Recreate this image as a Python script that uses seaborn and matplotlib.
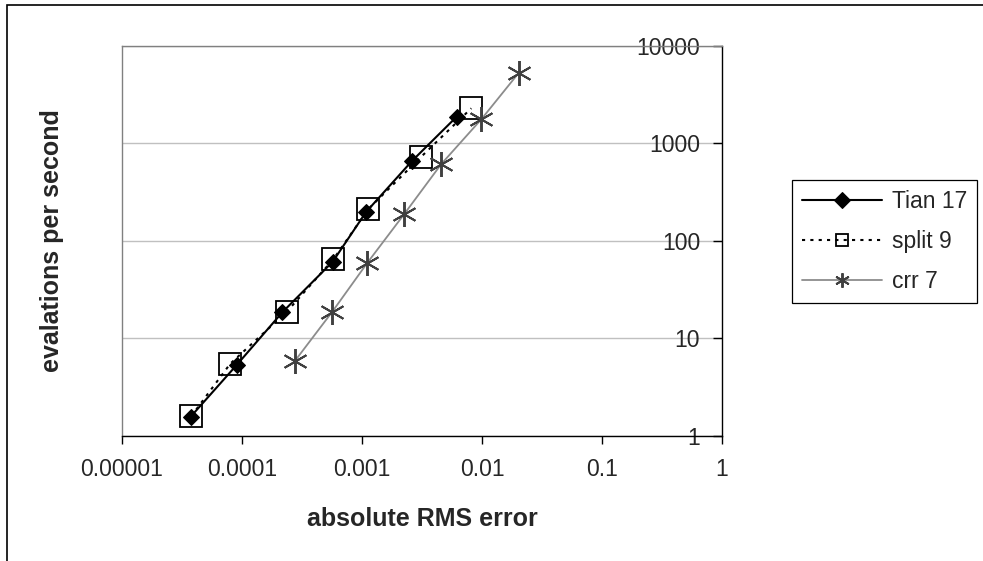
import numpy as np
import pandas as pd
import seaborn as sns
import matplotlib.pyplot as plt
from matplotlib.patches import Rectangle

# values (log-log)
tian_err = [3.74e-5, 9.03e-5, 2.17e-4, 5.70e-4, 1.08e-3, 2.61e-3, 6.15e-3]
tian_eps = [1.58, 5.35, 18.6, 61.3, 198, 662, 1883]

split_err = [3.78e-5, 7.99e-5, 2.36e-4, 5.77e-4, 1.13e-3, 3.12e-3, 8.14e-3]
split_eps = [1.60, 5.52, 18.8, 64.9, 213, 733, 2296]

crr_err = [2.77e-4, 5.65e-4, 1.11e-3, 2.25e-3, 4.58e-3, 9.87e-3, 2.03e-2]
crr_eps = [5.92, 18.8, 59.9, 189, 616, 1771, 5325]

series_names = ["Tian 17", "split 9", "crr 7"]

x_ticks = [1e-5, 1e-4, 1e-3, 1e-2, 1e-1, 1]
x_tick_labels = ["0.00001", "0.0001", "0.001", "0.01", "0.1", "1"]
y_ticks = [1, 10, 100, 1000, 10000]
y_tick_labels = ["1", "10", "100", "1000", "10000"]

sns.set_style("white")
plt.rcParams['font.family'] = ['Liberation Sans', 'DejaVu Sans']

fig = plt.figure(figsize=(9.83, 5.61), dpi=100)
ax = fig.add_axes([0.12411, 0.22282, 0.61038, 0.69519])

sns.lineplot(x=tian_err, y=tian_eps, ax=ax, sort=False, estimator=None,
             color="black", lw=1.5, marker="D", markersize=8.5,
             markerfacecolor="black", markeredgecolor="black", label=series_names[0])
sns.lineplot(x=split_err, y=split_eps, ax=ax, sort=False, estimator=None,
             color="black", lw=1.5, linestyle=(0, (1.5, 2.5)), marker="s", markersize=15.5,
             markerfacecolor="none", markeredgecolor="black", markeredgewidth=1.3,
             label=series_names[1])
sns.lineplot(x=crr_err, y=crr_eps, ax=ax, sort=False, estimator=None,
             color="#8c8c8c", lw=1.3, marker=(6, 2, 0), markersize=18,
             markeredgecolor="#404040", markeredgewidth=1.4, label=series_names[2])

ax.set_xscale("log")
ax.set_yscale("log")
ax.set_xlim(1e-5, 1)
ax.set_ylim(1, 10000)
ax.set_xticks(x_ticks, x_tick_labels)
ax.set_yticks(y_ticks, y_tick_labels)
ax.minorticks_off()

ax.grid(axis="y", color="#c0c0c0", lw=1)
ax.grid(axis="x", visible=False)

for side in ["left", "top"]:
    ax.spines[side].set_color("#808080")
    ax.spines[side].set_linewidth(1)
for side in ["right", "bottom"]:
    ax.spines[side].set_color("black")
    ax.spines[side].set_linewidth(1)
    ax.spines[side].set_visible(True)

ax.tick_params(axis="x", direction="out", length=6, width=1, color="black",
               labelsize=16.5, pad=10, bottom=True)
ax.yaxis.set_ticks_position("right")
ax.tick_params(axis="y", direction="in", length=6.5, width=1, color="black",
               labelsize=16.5, labelright=True, labelleft=False, pad=-15.8)
plt.setp(ax.get_yticklabels(), ha="right")

ax.set_xlabel("absolute RMS error", fontsize=18, fontweight="bold")
ax.xaxis.set_label_coords(0.5, -0.182)
ax.yaxis.set_label_position("left")
ax.set_ylabel("evalations per second", fontsize=18, fontweight="bold")
ax.yaxis.set_label_coords(-0.097, 0.5)

leg = ax.legend(loc="upper left", bbox_to_anchor=(792 / 983, 1 - 180 / 561),
                bbox_transform=fig.transFigure, fontsize=16.5, frameon=True,
                fancybox=False, framealpha=1, edgecolor="black",
                handlelength=3.5, handletextpad=0.45, borderpad=0.42,
                labelspacing=0.76, borderaxespad=0, numpoints=1)
leg.get_frame().set_linewidth(0.9)
for h, ms in zip(leg.legend_handles, [8.5, 8, 10.5]):
    h.set_markersize(ms)

# outer chart border (cropped on right and bottom in the reference)
fig.patches.append(Rectangle((7 / 983, -0.5), 2, 1.5 - 5 / 561, transform=fig.transFigure,
                             fill=False, edgecolor="black", lw=1.2, clip_on=False))

fig.savefig("out.png", dpi=100)
